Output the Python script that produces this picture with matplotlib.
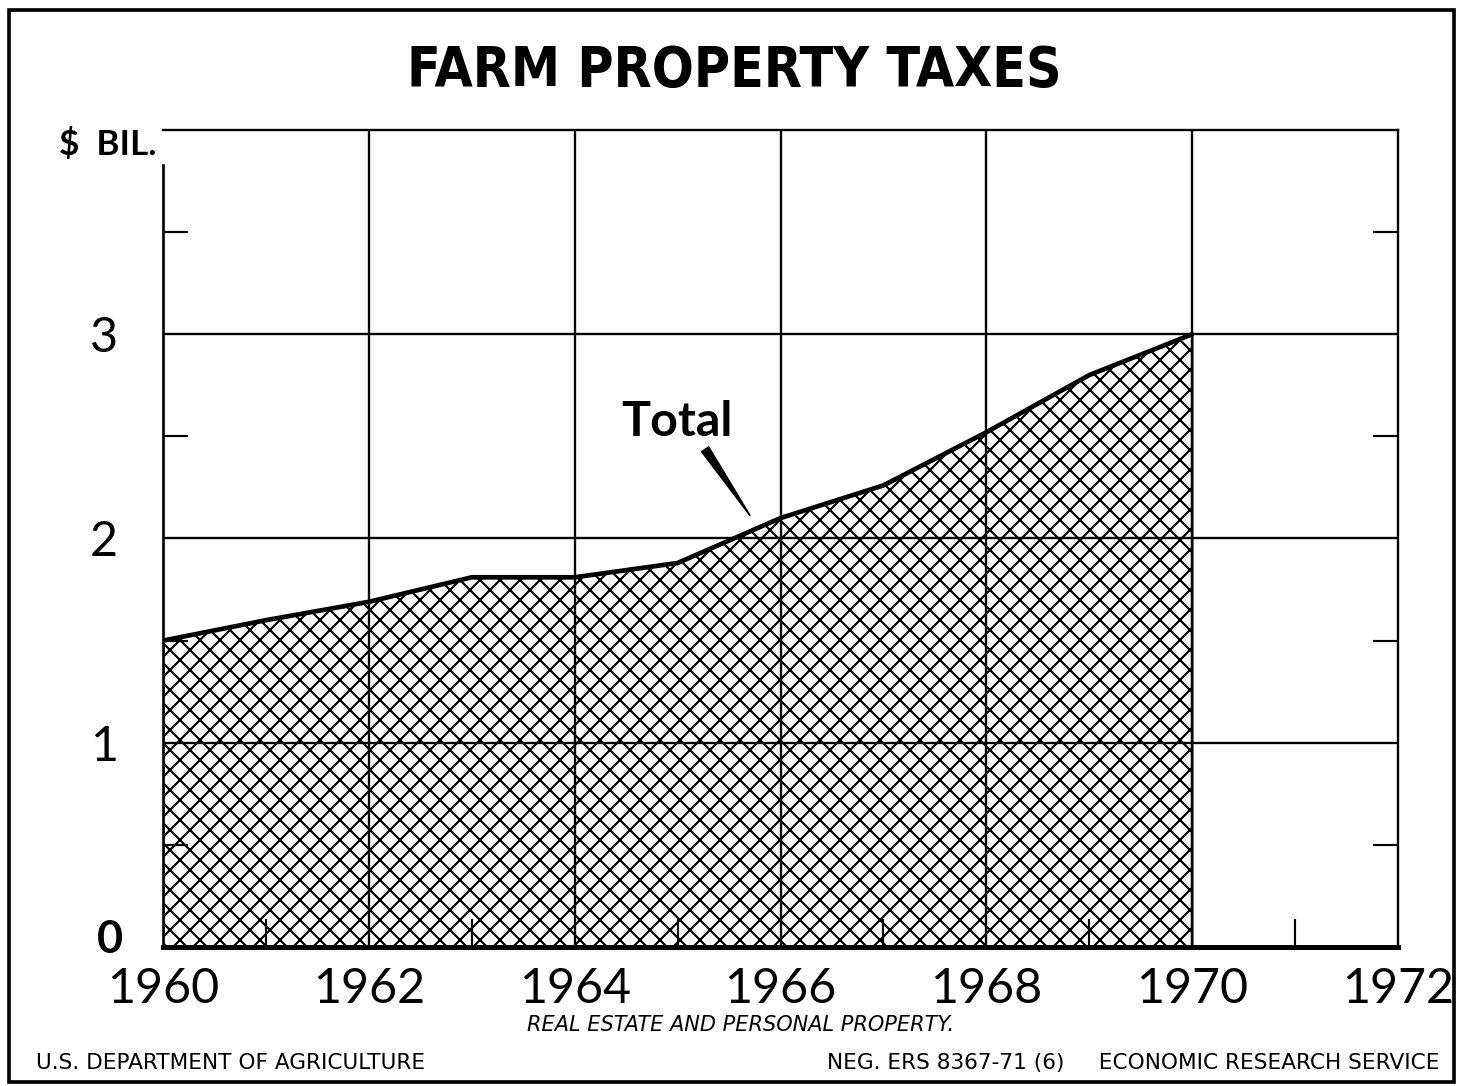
import matplotlib
matplotlib.use("Agg")
import matplotlib.pyplot as plt
from matplotlib.patches import Rectangle

# farm property taxes, $ billion
years = [1960, 1961, 1962, 1963, 1964, 1965, 1966, 1967, 1968, 1969, 1970]
taxes = [1.50, 1.60, 1.69, 1.81, 1.81, 1.88, 2.10, 2.26, 2.52, 2.80, 3.00]

year_ticks = [1960, 1962, 1964, 1966, 1968, 1970, 1972]
odd_years = [1961, 1963, 1965, 1967, 1969, 1971]
y_labels = [1, 2, 3]
half_ticks = [0.5, 1.5, 2.5, 3.5]

title = "FARM PROPERTY TAXES"
note = "REAL ESTATE AND PERSONAL PROPERTY."
left_credit = "U.S. DEPARTMENT OF AGRICULTURE"
right_credit = "NEG. ERS 8367-71 (6)     ECONOMIC RESEARCH SERVICE"

plt.rcParams['font.family'] = ['Lato', 'DejaVu Sans']
plt.rcParams['hatch.linewidth'] = 1.3

fig = plt.figure(figsize=(1457 / 120, 1086 / 120), dpi=120)
ax = fig.add_axes([0.1119, 0.1280, 0.8476, 0.7523])

ax.set_xlim(1960, 1972)
ax.set_ylim(0, 4)

# grid over the hatch
for x in year_ticks[1:-1]:
    ax.axvline(x, color='black', lw=1.4, zorder=3)
for y in y_labels:
    ax.axhline(y, color='black', lw=1.4, zorder=3)

ax.fill_between(years, taxes, 0, facecolor='white', edgecolor='black',
                hatch='xx', lw=1.5, zorder=1)
ax.plot(years, taxes, color='black', lw=2.8, zorder=4, solid_capstyle='round')

# ticks
ax.set_xticks(year_ticks)
ax.set_xticklabels([str(y) for y in year_ticks], fontsize=29)
ax.set_xticks(odd_years, minor=True)
ax.set_yticks(y_labels)
ax.set_yticklabels([str(y) for y in y_labels], fontsize=29)
ax.set_yticks(half_ticks, minor=True)
ax.tick_params(axis='x', which='major', length=0, pad=12)
ax.tick_params(axis='x', which='minor', direction='in', length=17, width=1.3)
ax.tick_params(axis='y', which='major', length=0, pad=27)
ax.tick_params(axis='y', which='minor', direction='in', length=15, width=1.3,
               left=True, right=True)

ax.spines['bottom'].set_linewidth(3)
ax.spines['left'].set_linewidth(1.6)
ax.spines['right'].set_linewidth(1.4)
ax.spines['top'].set_linewidth(1.4)
ax.spines['left'].set_bounds(0, 3.83)
for s in ax.spines.values():
    s.set_zorder(5)

ax.annotate('0', xy=(1960, 0), xytext=(-32, 4), textcoords='offset points',
            ha='center', va='center', fontsize=27, fontweight='bold')
ax.annotate('$  BIL.', xy=(1960, 3.93), xytext=(-4, 0), textcoords='offset points',
            ha='right', va='center', fontsize=21, fontweight='bold')

ax.annotate('', xy=(1965.72, 2.10), xytext=(1965.25, 2.45),
            arrowprops=dict(arrowstyle='wedge,tail_width=0.5,shrink_factor=0.5',
                            fc='black', ec='black'), zorder=6)
ax.text(1964.99, 2.57, 'Total', ha='center', va='center',
        fontsize=29, fontweight='bold')

fig.text(0.504, 0.9346, title, ha='center', va='center', fontsize=33,
         fontweight='bold', family=['Liberation Sans Narrow', 'DejaVu Sans'],
         fontstretch='condensed')
fig.text(0.508, 0.0562, note, ha='center', va='center', fontsize=12.5,
         style='italic', family='DejaVu Sans')
fig.text(0.025, 0.021, left_credit, ha='left', va='center', fontsize=13,
         family='DejaVu Sans')
fig.text(0.988, 0.021, right_credit, ha='right', va='center', fontsize=13,
         family='DejaVu Sans')

fig.patches.append(Rectangle((0.006, 0.004), 0.992, 0.987, transform=fig.transFigure,
                             fill=False, ec='black', lw=2.2))

fig.savefig('out.png', dpi=120)
